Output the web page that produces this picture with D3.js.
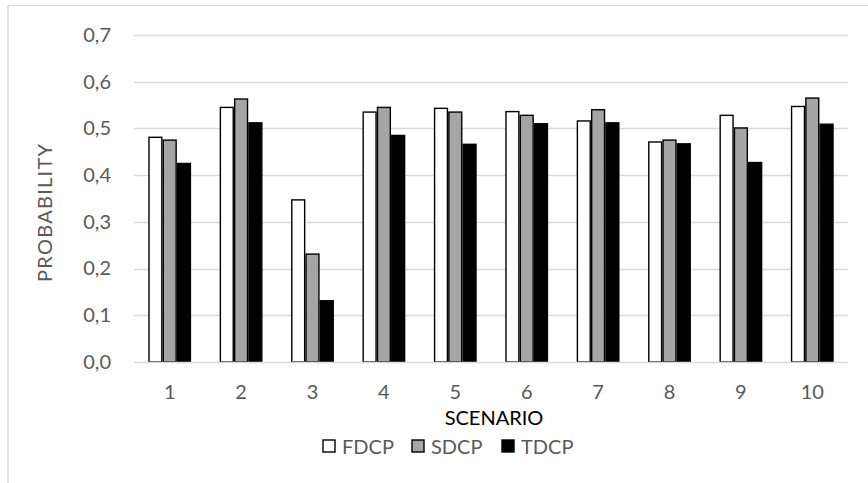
<!DOCTYPE html>
<html>
<head>
<meta charset="utf-8">
<script src="https://cdn.jsdelivr.net/npm/d3@7"></script>
<style>
  html, body { margin: 0; padding: 0; background: #fff; }
  svg { display: block; font-family: Lato, "Open Sans", sans-serif; }
</style>
</head>
<body>
<svg id="chart" width="868" height="483"></svg>
<script>
const categories = ["1", "2", "3", "4", "5", "6", "7", "8", "9", "10"];
const seriesNames = ["FDCP", "SDCP", "TDCP"];
const fdcp = [0.481, 0.545, 0.347, 0.535, 0.543, 0.536, 0.516, 0.471, 0.528, 0.547];
const sdcp = [0.475, 0.563, 0.231, 0.545, 0.535, 0.528, 0.540, 0.475, 0.501, 0.565];
const tdcp = [0.425, 0.512, 0.131, 0.485, 0.466, 0.510, 0.512, 0.467, 0.427, 0.509];
const yTicks = [0, 0.1, 0.2, 0.3, 0.4, 0.5, 0.6, 0.7];
const colors = ["#ffffff", "#a5a5a5", "#000000"];

const seriesValues = [fdcp, sdcp, tdcp];
const svg = d3.select("#chart");

// chart area frame (only top and left edges visible in the crop)
svg.append("line").attr("x1", 8).attr("x2", 868).attr("y1", 5.5).attr("y2", 5.5)
  .attr("stroke", "#d9d9d9").attr("stroke-width", 1.2);
svg.append("line").attr("x1", 8).attr("x2", 8).attr("y1", 5.5).attr("y2", 483)
  .attr("stroke", "#d9d9d9").attr("stroke-width", 1.5);

const plot = { left: 134, right: 848, top: 35, bottom: 362 };

const x = d3.scaleBand().domain(categories).range([plot.left, plot.right]).paddingInner(0).paddingOuter(0);
const groupWidth = 44.3;
const xs = d3.scaleBand().domain(seriesNames).range([0, groupWidth]).padding(0.1);
const y = d3.scaleLinear().domain([0, 0.7]).range([plot.bottom, plot.top]);

// gridlines
svg.append("g").selectAll("line").data(yTicks.filter(d => d > 0)).join("line")
  .attr("x1", plot.left).attr("x2", plot.right)
  .attr("y1", d => Math.round(y(d)) + 0.5).attr("y2", d => Math.round(y(d)) + 0.5)
  .attr("stroke", "#d9d9d9").attr("stroke-width", 1.3);

// y axis labels
const fmt = d => d3.format(".1f")(d).replace(".", ",");
const yAxis = d3.axisLeft(y).tickValues(yTicks).tickFormat(fmt).tickSize(0).tickPadding(0);
const yg = svg.append("g").attr("transform", `translate(${plot.left - 23},0)`).call(yAxis);
yg.select(".domain").remove();
yg.selectAll("text").attr("fill", "#595959").attr("font-size", 20).attr("font-family", "Lato, sans-serif");

// bars
const groups = svg.append("g").selectAll("g").data(categories).join("g")
  .attr("transform", d => `translate(${x(d) + x.bandwidth() / 2 - groupWidth / 2},0)`);
groups.selectAll("rect").data((d, i) => seriesNames.map((s, j) => ({ s, j, v: seriesValues[j][i] })))
  .join("rect")
  .attr("x", d => xs(d.s))
  .attr("width", xs.bandwidth())
  .attr("y", d => y(d.v))
  .attr("height", d => y(0) - y(d.v))
  .attr("fill", d => colors[d.j])
  .attr("stroke", "#000")
  .attr("stroke-width", 1.4);

// x axis line
svg.append("line").attr("x1", plot.left).attr("x2", plot.right)
  .attr("y1", plot.bottom + 0.5).attr("y2", plot.bottom + 0.5)
  .attr("stroke", "#d9d9d9").attr("stroke-width", 1.5);

// x axis labels
const xAxis = d3.axisBottom(x).tickSize(0).tickPadding(0);
const xg = svg.append("g").attr("transform", `translate(0,${plot.bottom + 23})`).call(xAxis);
xg.select(".domain").remove();
xg.selectAll("text").attr("fill", "#595959").attr("font-size", 20).attr("font-family", "Lato, sans-serif");

// axis titles
svg.append("text").attr("x", (plot.left + plot.right) / 2 + 3).attr("y", 425)
  .attr("text-anchor", "middle").attr("font-size", 20).attr("fill", "#000")
  .text("SCENARIO");
svg.append("text").attr("transform", "translate(52,213) rotate(-90)")
  .attr("text-anchor", "middle").attr("font-size", 20).attr("fill", "#595959")
  .attr("textLength", 138).attr("lengthAdjust", "spacing")
  .text("PROBABILITY");

// legend
const legendX = [323, 412, 502];
const lg = svg.append("g").selectAll("g").data(seriesNames).join("g")
  .attr("transform", (d, i) => `translate(${legendX[i]},440)`);
lg.append("rect").attr("width", 12).attr("height", 12)
  .attr("fill", (d, i) => colors[i]).attr("stroke", "#000").attr("stroke-width", 1.4);
lg.append("text").attr("x", 19).attr("y", 13.5).attr("font-size", 20).attr("fill", "#595959")
  .text(d => d);
</script>
</body>
</html>
